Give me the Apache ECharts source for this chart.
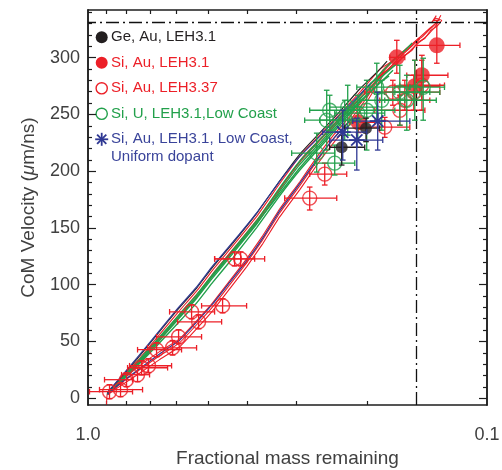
<!DOCTYPE html>
<html>
<head>
<meta charset="utf-8">
<script src="https://cdn.jsdelivr.net/npm/echarts@6/dist/echarts.min.js"></script>
<style>
  html, body { margin: 0; padding: 0; background: #fff; }
  #chart { width: 502px; height: 470px; }
</style>
</head>
<body>
<div id="chart"></div>
<script>
// ---- Simulated trajectories: [fraction of mass remaining, CoM velocity (um/ns)] ----
const simRedA = [[0.8987,-5.5],[0.8935,4.8],[0.7513,33.0],[0.6694,54.1],[0.5963,75.2],[0.5313,95.4],[0.4844,114.0],[0.4316,135.0],[0.3757,161.3],[0.3290,190.2],[0.2931,214.2],[0.2611,232.6],[0.2327,251.1],[0.2072,270.4],[0.1846,290.6],[0.1742,296.0],[0.1644,303.0],[0.1570,308.2],[0.1508,314.4],[0.1448,318.8],[0.1399,324.1],[0.1351,329.4],[0.1321,333.8],[0.1305,337.3]];
const simRedB = [[0.8832,4.8],[0.7384,33.0],[0.6579,54.1],[0.5861,75.2],[0.5222,95.4],[0.4761,114.0],[0.4242,135.0],[0.3693,161.3],[0.3233,189.3],[0.2881,213.3],[0.2566,231.7],[0.2286,251.1],[0.2037,270.4],[0.1814,287.1],[0.1692,294.0],[0.1616,301.2],[0.1543,306.5],[0.1490,313.5],[0.1431,317.1],[0.1383,324.1],[0.1336,327.6],[0.1298,332.9],[0.1343,334.7],[0.1375,331.1],[0.1340,337.0]];
const simRedC = [[0.8935,4.0],[0.7513,29.0],[0.6694,49.0],[0.5963,70.0],[0.5313,90.0],[0.4844,109.0],[0.4316,130.4],[0.3757,156.3],[0.3290,185.3],[0.2931,208.8],[0.2611,227.7],[0.2327,246.4],[0.2072,265.4],[0.1846,283.7],[0.1742,292.0],[0.1644,299.0],[0.1570,305.0],[0.1508,311.0],[0.1448,316.0],[0.1399,321.0],[0.1351,327.0],[0.1330,331.0]];
const simRedLowA = [[0.8935,3.1],[0.8240,13.6],[0.7427,25.1],[0.6617,37.4],[0.5895,48.8],[0.5344,64.7],[0.4872,80.5],[0.4416,99.8],[0.4004,119.2],[0.3650,139.5],[0.3309,163.2],[0.2948,187.0],[0.2656,210.0],[0.2408,229.8],[0.2183,246.7],[0.1990,266.0],[0.1825,287.2],[0.1692,299.5],[0.1579,309.2],[0.1473,318.0],[0.1391,325.9],[0.1336,331.1]];
const simRedLowB = [[0.8935,3.0],[0.8240,11.5],[0.7427,22.0],[0.6617,34.0],[0.5895,45.3],[0.5344,61.2],[0.4872,77.0],[0.4416,96.3],[0.4004,115.7],[0.3650,136.0],[0.3309,159.7],[0.2948,183.5],[0.2656,206.5],[0.2408,226.3],[0.2183,243.2],[0.1990,262.5],[0.1825,284.0],[0.1692,297.0],[0.1579,307.0],[0.1473,316.5]];
const simRedLowC = [[0.8935,3.3],[0.8240,15.5],[0.7427,28.5],[0.6617,41.0],[0.5895,52.3],[0.5344,68.2],[0.4872,84.0],[0.4416,103.3],[0.4004,122.7],[0.3650,143.0],[0.3309,166.7],[0.2948,190.5],[0.2656,213.5],[0.2408,233.0],[0.2183,250.0],[0.1990,268.5],[0.1825,289.0],[0.1692,300.5]];
const simGreenA = [[0.8935,4.5],[0.7556,31.0],[0.6731,51.0],[0.5995,71.0],[0.5341,91.0],[0.4870,109.0],[0.4338,130.4],[0.3778,156.3],[0.3309,185.3],[0.2948,208.8],[0.2626,227.7],[0.2340,246.4],[0.2084,266.4],[0.1857,285.7],[0.1700,299.0],[0.1600,307.0],[0.1540,313.0]];
const simGreenB = [[0.8935,4.0],[0.7556,29.0],[0.6731,48.0],[0.5995,68.0],[0.5341,88.0],[0.4870,106.0],[0.4338,127.4],[0.3778,153.3],[0.3309,182.3],[0.2948,205.8],[0.2626,224.7],[0.2340,244.4],[0.2084,263.4],[0.1857,281.7],[0.1680,295.0]];
const simGreenC = [[0.8935,4.0],[0.7556,30.0],[0.6731,49.5],[0.5995,69.5],[0.5341,89.5],[0.4870,107.5],[0.4338,128.9],[0.3778,154.3],[0.3309,180.3],[0.2948,202.8],[0.2626,222.7],[0.2340,242.4],[0.2084,261.4],[0.1857,277.7],[0.1720,289.0]];
const simGreenD = [[0.8935,3.5],[0.7556,28.0],[0.6731,46.0],[0.5995,65.0],[0.5341,84.0],[0.4870,102.0],[0.4338,123.4],[0.3778,150.3],[0.3309,178.3],[0.2948,200.8],[0.2626,220.7],[0.2340,240.4],[0.2084,260.4],[0.1857,277.7],[0.1760,284.0]];
const simBlueA = [[0.8935,5.0],[0.7556,35.0],[0.6731,56.5],[0.5995,78.0],[0.5341,98.0],[0.4870,116.5],[0.4338,137.4],[0.3778,163.3],[0.3309,191.3],[0.2948,212.8],[0.2626,230.7],[0.2340,249.4],[0.2084,267.4],[0.1950,278.0]];
const simBlueB = [[0.8935,3.5],[0.8240,14.0],[0.7427,26.0],[0.6617,39.0],[0.5895,51.0],[0.5344,67.0],[0.4872,83.0],[0.4416,102.0],[0.4004,121.0],[0.3650,141.0],[0.3309,165.0],[0.2948,189.0],[0.2656,211.0],[0.2408,230.0],[0.2183,246.0]];
const simBlack = [[0.8935,5.0],[0.7556,34.0],[0.6731,55.5],[0.5995,77.0],[0.5341,97.0],[0.4870,115.5],[0.4338,136.4],[0.3778,162.8],[0.3309,191.3],[0.2948,214.8],[0.2626,233.7],[0.2340,252.4],[0.2084,272.4],[0.1857,289.7],[0.1780,297.0]];

// ---- Measurements: [fraction, velocity, fraction left end, fraction right end, velocity low, velocity high] ----
const geAuLeh31 = [
  [0.2313,221.1,0.2479,0.2025,205.4,231.7],
  [0.2010,237.9,0.2273,0.1857,226.0,246.7]
];
const siAuLeh31 = [
  [0.1683,300.3,0.1752,0.1607,286.3,315.3],
  [0.1336,310.9,0.1500,0.1169,295.1,332.9],
  [0.1456,284.5,0.1589,0.1253,253.7,302.1],
  [0.1517,274.8,0.1702,0.1313,262.5,297.7],
  [0.2100,243.0,0.2208,0.1911,234.0,251.0]
];
const siAuLeh337 = [
  [0.8832,5.7,0.9914,0.7733,-0.5,11.9],
  [0.8288,7.5,0.9358,0.7299,1.3,13.7],
  [0.8006,16.3,0.9091,0.7733,10.1,22.5],
  [0.7513,20.7,0.8240,0.7010,14.5,26.9],
  [0.7342,26.8,0.7959,0.6317,20.6,33.0],
  [0.7051,28.6,0.7868,0.6173,22.4,34.8],
  [0.6732,42.7,0.7513,0.5828,36.5,48.9],
  [0.6138,44.4,0.7091,0.5344,38.0,50.8],
  [0.5929,54.1,0.6732,0.5192,47.9,60.3],
  [0.5500,76.1,0.6245,0.4816,69.9,82.3],
  [0.5282,67.3,0.5963,0.4625,61.1,73.5],
  [0.4599,81.4,0.5192,0.4004,75.2,87.6],
  [0.4144,122.7,0.4816,0.3608,116.5,128.9],
  [0.4291,122.7,0.4816,0.3822,116.5,128.9],
  [0.2782,176.3,0.3214,0.2380,165.8,186.0],
  [0.2551,197.4,0.2782,0.2247,187.8,207.1],
  [0.1804,238.8,0.2084,0.1561,229.8,247.4],
  [0.1654,253.7,0.1911,0.1431,240.5,266.9],
  [0.1722,269.6,0.2025,0.1473,258.1,280.1],
  [0.1526,269.6,0.1804,0.1313,253.7,284.5],
  [0.1457,275.7,0.1654,0.1278,262.5,297.7],
  [0.1607,262.5,0.1857,0.1391,253.7,280.1]
];
const siULeh31LowCoast = [
  [0.2672,215.9,0.3087,0.2408,199.2,233.5],
  [0.2522,244.9,0.2864,0.2208,218.6,271.3],
  [0.2408,207.1,0.2703,0.2145,196.6,223.0],
  [0.2234,256.4,0.2479,0.1889,231.7,275.7],
  [0.2273,244.9,0.2626,0.2084,227.4,262.5],
  [0.2108,251.1,0.2408,0.1804,227.4,266.9],
  [0.2002,253.7,0.2273,0.1702,218.6,280.1],
  [0.1889,274.0,0.2120,0.1561,244.9,295.1],
  [0.1836,262.5,0.2084,0.1607,236.1,280.1],
  [0.1654,269.6,0.1911,0.1391,240.5,293.3],
  [0.1589,262.5,0.1804,0.1340,236.1,284.5],
  [0.1517,269.6,0.1702,0.1313,244.9,297.7],
  [0.1445,274.0,0.1561,0.1278,244.9,299.5],
  [0.2479,253.7,0.2782,0.2084,236.1,266.9]
];
const siAuLeh31Uniform = [
  [0.2299,234.4,0.2581,0.2002,209.8,253.7],
  [0.2120,227.4,0.2479,0.1825,201.0,246.7],
  [0.1879,244.1,0.2170,0.1561,218.6,269.6]
];

// ---- Axis ticks and labels ----
const yMajorTicks = [0, 50, 100, 150, 200, 250, 300];
const yMinorTicks = [10, 20, 30, 40, 60, 70, 80, 90, 110, 120, 130, 140, 160, 170, 180, 190, 210, 220, 230, 240, 260, 270, 280, 290, 310, 320, 330, 340];
const xMinorTicks = [0.9, 0.8, 0.7, 0.6, 0.5, 0.4, 0.3, 0.2];
const xLabelValues = [1.0, 0.1];
const yRange = [-6, 342];
const xRange = [0.1, 1.0];
const refVelocity = 331;
const refFraction = 0.15;

const seriesNames = ['Ge, Au, LEH3.1', 'Si, Au, LEH3.1', 'Si, Au, LEH3.37', 'Si, U, LEH3.1,Low Coast', 'Si, Au, LEH3.1, Low Coast,\nUniform dopant'];

const RED = '#ec1f27', GREEN = '#22a04b', BLUE = '#2f3893', BLACK = '#231f20';
const BLUE_TEXT = '#3a449a';
const AX = '#1e1e1e', TXT = '#404040';
const FONT = '"Liberation Sans", Arial, Helvetica, sans-serif';

const chart = echarts.init(document.getElementById('chart'), null, { renderer: 'canvas' });

function simLine(data, color, width, z) {
  return {
    type: 'line', data, showSymbol: false, smooth: 0.1, silent: true, z,
    lineStyle: { color, width }, emphasis: { disabled: true }, clip: true
  };
}

function errorBars(data, color, z) {
  return {
    type: 'custom', data, z, silent: true, clip: true,
    encode: { x: 0, y: 1 },
    renderItem(params, api) {
      const f = api.value(0), v = api.value(1);
      const c = api.coord([f, v]);
      const pl = api.coord([api.value(2), v]);
      const pr = api.coord([api.value(3), v]);
      const pb = api.coord([f, api.value(4)]);
      const pt = api.coord([f, api.value(5)]);
      const cap = 2.8;
      const style = { stroke: color, lineWidth: 1.3, fill: null };
      const seg = (x1, y1, x2, y2) => ({ type: 'line', shape: { x1, y1, x2, y2 }, style });
      return {
        type: 'group',
        children: [
          seg(pl[0], c[1], pr[0], c[1]),
          seg(pl[0], c[1] - cap, pl[0], c[1] + cap),
          seg(pr[0], c[1] - cap, pr[0], c[1] + cap),
          seg(c[0], pb[1], c[0], pt[1]),
          seg(c[0] - cap, pb[1], c[0] + cap, pb[1]),
          seg(c[0] - cap, pt[1], c[0] + cap, pt[1])
        ]
      };
    }
  };
}

function markers(name, data, symbolSize, filled, color, z) {
  return {
    name, type: 'scatter', silent: true, z,
    data: data.map(d => [d[0], d[1]]),
    symbol: 'circle', symbolSize,
    itemStyle: filled
      ? { color, borderWidth: 0 }
      : { color: 'rgba(0,0,0,0)', borderColor: color, borderWidth: 1.4 },
    emphasis: { disabled: true }
  };
}

function asterisks(name, data, color, z) {
  return {
    name, type: 'custom', z, silent: true,
    data: data.map(d => [d[0], d[1]]),
    encode: { x: 0, y: 1 },
    renderItem(params, api) {
      const c = api.coord([api.value(0), api.value(1)]);
      const r = 8, d = r * 0.7071;
      const style = { stroke: color, lineWidth: 1.8, fill: null };
      const seg = (x1, y1, x2, y2) => ({ type: 'line', shape: { x1, y1, x2, y2 }, style });
      return {
        type: 'group',
        children: [
          seg(c[0] - r, c[1], c[0] + r, c[1]),
          seg(c[0], c[1] - r, c[0], c[1] + r),
          seg(c[0] - d, c[1] - d, c[0] + d, c[1] + d),
          seg(c[0] - d, c[1] + d, c[0] + d, c[1] - d)
        ]
      };
    }
  };
}

function xAxisDef(position, withLabels) {
  return {
    type: 'log', logBase: 10, min: xRange[0], max: xRange[1], inverse: true, position,
    axisLine: { show: true, onZero: false, lineStyle: { color: AX, width: 1.5 } },
    axisTick: { show: true, inside: true, length: 4, customValues: xMinorTicks, lineStyle: { color: AX, width: 1.2 } },
    axisLabel: withLabels
      ? { show: true, customValues: xLabelValues, formatter: v => Number(v).toFixed(1), fontSize: 18, color: TXT, fontFamily: FONT, margin: 21 }
      : { show: false },
    minorTick: { show: false }, splitLine: { show: false },
    name: withLabels ? 'Fractional mass remaining' : '',
    nameLocation: 'middle', nameGap: 44,
    nameTextStyle: { fontSize: 19, color: TXT, fontFamily: FONT }
  };
}

function yAxisDef(position, ticks, len, withLabels) {
  const def = {
    type: 'value', min: yRange[0], max: yRange[1], position, offset: 0,
    axisLine: { show: true, onZero: false, lineStyle: { color: AX, width: 1.5 } },
    axisTick: { show: true, inside: true, length: len, customValues: ticks, lineStyle: { color: AX, width: 1.2 } },
    axisLabel: withLabels
      ? { show: true, customValues: yMajorTicks, fontSize: 18, color: TXT, fontFamily: FONT, margin: 8 }
      : { show: false },
    splitLine: { show: false }, minorTick: { show: false }
  };
  if (withLabels) {
    def.name = '{t|CoM Velocity (}{i|\u03bc}{t|m/ns)}';
    def.nameLocation = 'middle';
    def.nameGap = 50;
    def.nameRotate = 90;
    def.nameTextStyle = {
      rich: {
        t: { fontSize: 19, color: TXT, fontFamily: FONT },
        i: { fontSize: 19, color: TXT, fontFamily: FONT, fontStyle: 'italic' }
      }
    };
  }
  return def;
}

// Legend drawn as a fixed block in the upper-left corner of the plot
const legendIconX = 101.7, legendTextX = 111, legendY0 = 37.3, legendStep = 25.5;
const legendColors = [BLACK, RED, RED, GREEN, BLUE];
const legendTextColors = [BLACK, RED, RED, GREEN, BLUE_TEXT];
const legendIcons = ['filled', 'filled', 'open', 'open', 'star'];
const legendGraphics = [];
seriesNames.forEach((label, i) => {
  const y = legendY0 + i * legendStep;
  const col = legendColors[i];
  if (legendIcons[i] === 'filled') {
    legendGraphics.push({ type: 'circle', shape: { cx: legendIconX, cy: y, r: 6 }, style: { fill: col }, silent: true });
  } else if (legendIcons[i] === 'open') {
    legendGraphics.push({ type: 'circle', shape: { cx: legendIconX, cy: y, r: 5.6 }, style: { fill: null, stroke: col, lineWidth: 1.4 }, silent: true });
  } else {
    const r = 6.5, d = r * 0.7071;
    [[-r, 0, r, 0], [0, -r, 0, r], [-d, -d, d, d], [-d, d, d, -d]].forEach(s => {
      legendGraphics.push({ type: 'line', shape: { x1: legendIconX + s[0], y1: y + s[1], x2: legendIconX + s[2], y2: y + s[3] }, style: { stroke: col, lineWidth: 1.8 }, silent: true });
    });
  }
  legendGraphics.push({
    type: 'text', x: legendTextX, y: y - 9, silent: true,
    style: { text: label, fill: legendTextColors[i], fontSize: 15, fontFamily: FONT, lineHeight: 18, align: 'left', verticalAlign: 'top' }
  });
});

const option = {
  animation: false,
  backgroundColor: '#ffffff',
  grid: { left: 88, right: 15, top: 10, bottom: 65, containLabel: false, outerBoundsMode: 'none' },
  xAxis: [xAxisDef('bottom', true), xAxisDef('top', false)],
  yAxis: [
    yAxisDef('left', yMajorTicks, 8, true),
    yAxisDef('left', yMinorTicks, 4, false),
    yAxisDef('right', yMajorTicks, 8, false),
    yAxisDef('right', yMinorTicks, 4, false)
  ],
  graphic: legendGraphics,
  series: [
    // reference lines
    {
      type: 'line', data: [], silent: true,
      markLine: {
        silent: true, symbol: ['none', 'none'], label: { show: false },
        lineStyle: { color: '#111', width: 1.3, type: [13, 4, 2, 4] },
        data: [{ yAxis: refVelocity }, { xAxis: refFraction }]
      }
    },
    simLine(simRedLowA, RED, 1.1, 2),
    simLine(simRedLowB, RED, 1.1, 2),
    simLine(simRedLowC, RED, 1.1, 2),
    simLine(simRedA, RED, 1.1, 2),
    simLine(simRedB, RED, 1.1, 2),
    simLine(simRedC, RED, 1.1, 2),
    simLine(simGreenA, GREEN, 1.4, 3),
    simLine(simGreenB, GREEN, 1.4, 3),
    simLine(simGreenC, GREEN, 1.4, 3),
    simLine(simGreenD, GREEN, 1.4, 3),
    simLine(simBlack, BLACK, 1.1, 3),
    simLine(simBlueA, BLUE, 1.2, 3),
    simLine(simBlueB, BLUE, 1.2, 3),
    errorBars(siAuLeh337, RED, 4),
    markers(seriesNames[2], siAuLeh337, 14, false, RED, 5),
    errorBars(siAuLeh31, RED, 4),
    markers(seriesNames[1], siAuLeh31, 16, true, RED, 5),
    errorBars(siULeh31LowCoast, GREEN, 6),
    markers(seriesNames[3], siULeh31LowCoast, 14, false, GREEN, 6),
    errorBars(geAuLeh31, BLACK, 7),
    markers(seriesNames[0], geAuLeh31, 12, true, BLACK, 7),
    errorBars(siAuLeh31Uniform, BLUE, 8),
    asterisks(seriesNames[4], siAuLeh31Uniform, BLUE, 8)
  ]
};

chart.setOption(option);
</script>
</body>
</html>
